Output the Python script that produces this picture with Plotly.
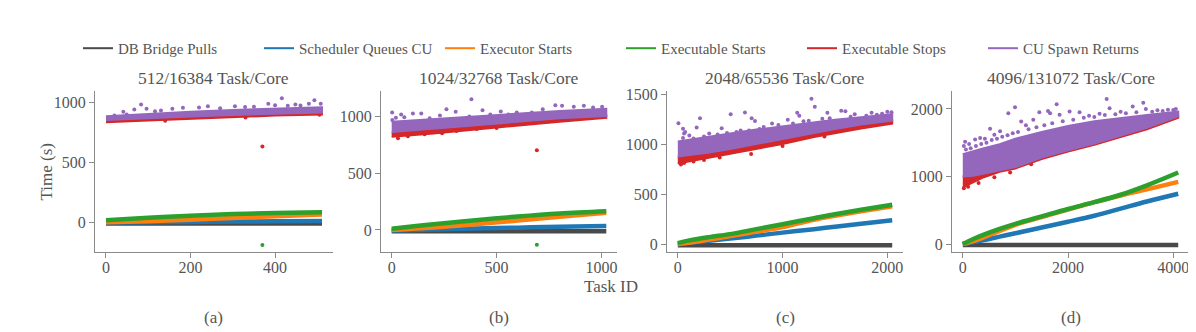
import plotly.graph_objects as go

# colours (matplotlib tab10 + dark grey)
C_DB = "#4a4a4a"
C_SCHED = "#1f77b4"
C_EXEC = "#ff7f0e"
C_XSTART = "#2ca02c"
C_XSTOP = "#d62728"
C_SPAWN = "#9467bd"

names = ["DB Bridge Pulls", "Scheduler Queues CU", "Executor Starts",
         "Executable Starts", "Executable Stops", "CU Spawn Returns"]
titles = ["512/16384 Task/Core", "1024/32768 Task/Core",
          "2048/65536 Task/Core", "4096/131072 Task/Core"]
letters = ["(a)", "(b)", "(c)", "(d)"]

# ---- (a) 512 tasks ----
task_a = [0, 100, 200, 300, 400, 511]
db_a = [-12, -12, -12, -12, -12, -12]
sched_a = [-4, -1, 2, 5, 7, 9]
exec_a = [0, 8, 20, 35, 50, 64]
xstart_a = [15, 36, 54, 67, 76, 82]
stop_lo_a = [832, 848, 862, 876, 888, 898]
stop_hi_a = [856, 870, 884, 898, 908, 918]
spawn_lo_a = [852, 866, 880, 894, 905, 914]
spawn_hi_a = [882, 902, 920, 935, 946, 958]
spawn_out_x_a = [83, 416, 493, 41, 67, 96, 130, 157, 182, 241, 305, 329, 384, 400, 448, 480, 508, 49, 116, 20, 220, 270, 350, 430, 460]
spawn_out_y_a = [980, 1033, 1016, 920, 939, 945, 931, 945, 953, 967, 967, 959, 986, 975, 980, 986, 986, 898, 925, 890, 955, 950, 962, 970, 972]
stop_out_x_a = [370, 330, 505, 140]
stop_out_y_a = [630, 872, 895, 846]
xstart_out_x_a = [370]
xstart_out_y_a = [-190]

# ---- (b) 1024 tasks ----
task_b = [0, 200, 400, 600, 800, 1023]
db_b = [-12, -12, -12, -12, -12, -12]
sched_b = [-5, 3, 12, 20, 28, 35]
exec_b = [0, 22, 50, 82, 115, 150]
xstart_b = [10, 50, 85, 118, 145, 165]
stop_lo_b = [818, 848, 880, 915, 950, 985]
stop_hi_b = [850, 880, 915, 950, 980, 1005]
spawn_lo_b = [860, 885, 915, 950, 980, 1000]
spawn_hi_b = [950, 975, 1000, 1025, 1045, 1065]
spawn_out_x_b = [380, 2, 45, 101, 141, 261, 305, 433, 470, 556, 596, 668, 780, 812, 868, 916, 1003, 181, 3, 370, 20, 60, 230, 520, 720, 960]
spawn_out_y_b = [1147, 1032, 1015, 1023, 1023, 1061, 1038, 1052, 1015, 1015, 1032, 1032, 1095, 1090, 1081, 1090, 1081, 980, 965, 996, 985, 990, 1005, 1040, 1060, 1075]
stop_out_x_b = [692, 77, 157, 309, 405, 30, 240, 500]
stop_out_y_b = [700, 822, 840, 869, 886, 805, 850, 895]
xstart_out_x_b = [692]
xstart_out_y_b = [-130]

# ---- (c) 2048 tasks ----
task_c = [0, 100, 300, 500, 750, 1000, 1300, 1500, 1750, 2047]
db_c = [-12, -12, -12, -12, -12, -12, -12, -12, -12, -12]
sched_c = [0, 10, 33, 55, 85, 115, 150, 175, 205, 240]
exec_c = [0, 12, 45, 80, 125, 170, 245, 285, 330, 380]
xstart_c = [10, 35, 70, 100, 150, 200, 260, 300, 345, 395]
stop_lo_c = [810, 830, 865, 905, 955, 1005, 1075, 1115, 1160, 1210]
stop_hi_c = [870, 880, 915, 950, 995, 1045, 1110, 1150, 1195, 1240]
spawn_lo_c = [880, 890, 920, 955, 1000, 1050, 1115, 1155, 1200, 1240]
spawn_hi_c = [1030, 1045, 1080, 1110, 1150, 1185, 1225, 1250, 1275, 1305]
spawn_out_x_c = [6, 212, 505, 641, 705, 737, 419, 50, 70, 180, 50, 1276, 1308, 1140, 1160, 1428, 1560, 1689, 1600, 1850, 2000, 900, 1050, 60, 110, 300, 600, 820, 1200, 1380, 1900, 2040,
                 150, 250, 380, 470, 560, 680, 780, 960, 1100, 1250, 1450, 1650, 1800, 1950]
spawn_out_y_c = [1214, 1263, 1303, 1322, 1263, 1237, 1164, 1158, 1125, 1170, 1065, 1461, 1379, 1320, 1290, 1319, 1340, 1303, 1335, 1320, 1330, 1210, 1250, 1110, 1090, 1110, 1140, 1175, 1235, 1260, 1300, 1325,
                 1060, 1080, 1100, 1115, 1125, 1140, 1155, 1195, 1210, 1240, 1265, 1280, 1290, 1310]
stop_out_x_c = [30, 150, 400, 700, 1000, 1400, 60, 250]
stop_out_y_c = [800, 830, 870, 905, 985, 1080, 815, 845]

# ---- (d) 4096 tasks ----
task_d = [0, 200, 400, 700, 1000, 1500, 2000, 2500, 3000, 3500, 4095]
db_d = [-12, -12, -12, -12, -12, -12, -12, -12, -12, -12, -12]
sched_d = [0, 30, 60, 110, 160, 245, 330, 420, 525, 630, 745]
exec_d = [0, 45, 100, 195, 285, 400, 510, 620, 720, 810, 920]
xstart_d = [0, 75, 140, 225, 300, 410, 520, 620, 730, 870, 1060]
stop_lo_d = [840, 920, 990, 1070, 1120, 1260, 1370, 1470, 1580, 1700, 1870]
stop_hi_d = [1000, 1010, 1040, 1100, 1160, 1300, 1410, 1510, 1610, 1730, 1895]
spawn_lo_d = [1000, 1010, 1040, 1090, 1140, 1280, 1390, 1490, 1600, 1720, 1890]
spawn_hi_d = [1330, 1380, 1420, 1480, 1560, 1660, 1750, 1820, 1870, 1910, 1960]
spawn_out_x_d = [993, 1784, 2735, 3431, 1455, 866, 519, 44, 234, 709, 1620, 2030, 2220, 2790, 3230, 3480, 1840, 1340, 330, 1110, 1660, 20, 120, 420, 600, 1200, 2400, 2600, 3000, 3700, 3900, 4050,
                 60, 150, 250, 350, 450, 550, 650, 750, 850, 950, 1050, 1250, 1400, 1550, 1700, 1900, 2100, 2300, 2500, 2700, 2900, 3100, 3300, 3600, 3800, 4000]
spawn_out_y_d = [2025, 2069, 2146, 2093, 1952, 1937, 1708, 1514, 1548, 1670, 1971, 1962, 1952, 2011, 2035, 2000, 1913, 1840, 1570, 1815, 1937, 1450, 1480, 1560, 1620, 1760, 1900, 1930, 1960, 1980, 1990, 2000,
                 1400, 1420, 1450, 1480, 1500, 1540, 1560, 1590, 1610, 1640, 1660, 1700, 1730, 1760, 1790, 1820, 1840, 1870, 1880, 1910, 1920, 1935, 1950, 1960, 1970, 1985]
stop_out_x_d = [20, 100, 300, 600, 900, 1300]
stop_out_y_d = [825, 850, 905, 990, 1060, 1180]

panels = [
    (task_a, db_a, sched_a, exec_a, xstart_a, stop_lo_a, stop_hi_a, spawn_lo_a, spawn_hi_a,
     spawn_out_x_a, spawn_out_y_a, stop_out_x_a, stop_out_y_a, xstart_out_x_a, xstart_out_y_a),
    (task_b, db_b, sched_b, exec_b, xstart_b, stop_lo_b, stop_hi_b, spawn_lo_b, spawn_hi_b,
     spawn_out_x_b, spawn_out_y_b, stop_out_x_b, stop_out_y_b, xstart_out_x_b, xstart_out_y_b),
    (task_c, db_c, sched_c, exec_c, xstart_c, stop_lo_c, stop_hi_c, spawn_lo_c, spawn_hi_c,
     spawn_out_x_c, spawn_out_y_c, stop_out_x_c, stop_out_y_c, [], []),
    (task_d, db_d, sched_d, exec_d, xstart_d, stop_lo_d, stop_hi_d, spawn_lo_d, spawn_hi_d,
     spawn_out_x_d, spawn_out_y_d, stop_out_x_d, stop_out_y_d, [], []),
]

x_ranges = [[-26, 537], [-51, 1074], [-103, 2150], [-205, 4300]]
y_ranges = [[-251, 1091], [-196, 1218], [-82, 1535], [-121, 2262]]
x_ticks = [[0, 200, 400], [0, 500, 1000], [0, 1000, 2000], [0, 2000, 4000]]
y_ticks = [[0, 500, 1000], [0, 500, 1000], [0, 500, 1000, 1500], [0, 1000, 2000]]

# page body has an 8px margin, so the figure is sized to fill the rest of the window
OFF = 8
W, H = 1196 - OFF, 332 - OFF


def px(x):
    return (x - OFF) / W


def py(y):
    return 1 - (y - OFF) / H


x_px = [(95, 333), (381, 617), (667, 903), (952, 1189)]
y_dom = [py(251), py(87.5)]

FONT = "Liberation Serif"
TXT = "#555555"
AX = "#8a8a8a"

fig = go.Figure()

# legend entries
for nm, col in zip(names, [C_DB, C_SCHED, C_EXEC, C_XSTART, C_XSTOP, C_SPAWN]):
    fig.add_trace(go.Scatter(x=[None], y=[None], mode="lines", name=nm,
                             line=dict(color=col, width=2)))

for i, p in enumerate(panels):
    (task, db, sched, ex, xs, slo, shi, plo, phi,
     pox, poy, sox, soy, gox, goy) = p
    xa = "x" if i == 0 else "x%d" % (i + 1)
    ya = "y" if i == 0 else "y%d" % (i + 1)
    common = dict(xaxis=xa, yaxis=ya, showlegend=False, hoverinfo="skip")

    for ys, col in [(db, C_DB), (sched, C_SCHED), (ex, C_EXEC), (xs, C_XSTART)]:
        fig.add_trace(go.Scatter(x=task, y=ys, mode="lines",
                                 line=dict(color=col, width=4.5, shape="spline"), **common))
    fig.add_trace(go.Scatter(x=gox, y=goy, mode="markers",
                             marker=dict(color=C_XSTART, size=4), **common))

    # executable stops: dense band + stray points
    fig.add_trace(go.Scatter(x=task + task[::-1], y=shi + slo[::-1], mode="lines",
                             fill="toself", fillcolor=C_XSTOP,
                             line=dict(color=C_XSTOP, width=2), **common))
    fig.add_trace(go.Scatter(x=sox, y=soy, mode="markers",
                             marker=dict(color=C_XSTOP, size=4), **common))

    # CU spawn returns: dense band + stray points
    fig.add_trace(go.Scatter(x=task + task[::-1], y=phi + plo[::-1], mode="lines",
                             fill="toself", fillcolor=C_SPAWN,
                             line=dict(color=C_SPAWN, width=2), **common))
    fig.add_trace(go.Scatter(x=pox, y=poy, mode="markers",
                             marker=dict(color=C_SPAWN, size=4), **common))

layout = dict(
    width=W, height=H,
    margin=dict(l=0, r=0, t=0, b=0),
    paper_bgcolor="white", plot_bgcolor="white",
    font=dict(family=FONT, color=TXT, size=16),
    legend=dict(orientation="h", x=px(78), xanchor="left", y=py(44), yanchor="middle",
                entrywidth=136, font=dict(size=15, color=TXT), itemwidth=30,
                bgcolor="rgba(0,0,0,0)"),
)
annotations = []
for i in range(4):
    sfx = "" if i == 0 else str(i + 1)
    x0, x1 = x_px[i]
    layout["xaxis" + sfx] = dict(
        domain=[px(x0), px(x1)], range=x_ranges[i], anchor="y" + sfx,
        tickvals=x_ticks[i], showline=True, linecolor=AX, linewidth=1,
        ticks="outside", ticklen=5, tickcolor=AX, showgrid=False, zeroline=False,
        tickfont=dict(size=16, color=TXT), ticklabelstandoff=-4,
    )
    layout["yaxis" + sfx] = dict(
        domain=list(y_dom), range=y_ranges[i], anchor="x" + sfx,
        tickvals=y_ticks[i], showline=True, linecolor=AX, linewidth=1,
        ticks="outside", ticklen=5, tickcolor=AX, showgrid=False, zeroline=False,
        tickfont=dict(size=16, color=TXT),
    )
    cx = px((x0 + x1) / 2)
    annotations.append(dict(text=titles[i], x=cx, y=py(74), xref="paper", yref="paper",
                            showarrow=False, font=dict(size=17.5, color=TXT),
                            xanchor="center", yanchor="middle"))
    annotations.append(dict(text=letters[i], x=cx, y=py(317), xref="paper", yref="paper",
                            showarrow=False, font=dict(size=17, color=TXT),
                            xanchor="center", yanchor="middle"))

annotations.append(dict(text="Task ID", x=px(611), y=py(286), xref="paper", yref="paper",
                        showarrow=False, font=dict(size=17, color=TXT),
                        xanchor="center", yanchor="middle"))
annotations.append(dict(text="Time (s)", x=px(46), y=py(170), xref="paper", yref="paper",
                        showarrow=False, textangle=-90, font=dict(size=17, color=TXT),
                        xanchor="center", yanchor="middle"))
layout["annotations"] = annotations

fig.update_layout(**layout)
fig.write_html("out.html")
